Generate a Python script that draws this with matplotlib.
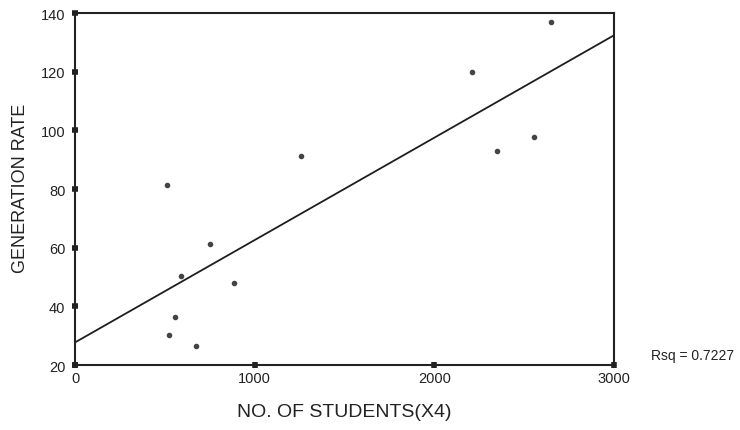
import matplotlib
matplotlib.use("Agg")
import matplotlib.pyplot as plt
import numpy as np

# data
students = [512, 590, 751, 885, 556, 523, 673, 1258, 2209, 2348, 2554, 2649]
gen_rate = [81.4, 50.3, 61.2, 47.9, 36.4, 30.2, 26.5, 91.2, 119.9, 92.9, 97.7, 136.9]
fit_intercept = 27.7
fit_slope = 0.0349
rsq_text = "Rsq = 0.7227"
x_ticks = [0, 1000, 2000, 3000]
y_ticks = [20, 40, 60, 80, 100, 120, 140]

plt.rcParams['font.family'] = ['Liberation Sans', 'DejaVu Sans']

fig = plt.figure(figsize=(7.4, 4.31), dpi=100)
ax = fig.add_axes([0.1014, 0.1508, 0.7283, 0.8167])

xs = np.array([0, 3000])
ax.plot(xs, fit_intercept + fit_slope * xs, color='#1e1e1e', lw=1.3, zorder=2)
ax.plot(students, gen_rate, linestyle='none', marker='o', ms=3.0,
        color='#444444', zorder=3)

ax.set_xlim(0, 3000)
ax.set_ylim(20, 140)
ax.set_xticks(x_ticks)
ax.set_yticks(y_ticks)
for s in ax.spines.values():
    s.set_linewidth(1.5)
    s.set_color('#222222')
ax.tick_params(axis='both', direction='inout', length=4, width=4,
               color='#222222', labelsize=10.5, labelcolor='#222222')
ax.tick_params(axis='y', pad=5)
ax.tick_params(axis='x', pad=2)

ax.set_xlabel("NO. OF STUDENTS(X4)", fontsize=14, color='#222222', labelpad=13)
fig.text(21 / 740, 1 - 188 / 431, "GENERATION RATE", rotation=90, fontsize=13,
         color='#222222', ha='center', va='center')
fig.text(651 / 740, 1 - 356 / 431, rsq_text, fontsize=10, color='#222222',
         ha='left', va='center')

fig.savefig("out.png", dpi=100)
